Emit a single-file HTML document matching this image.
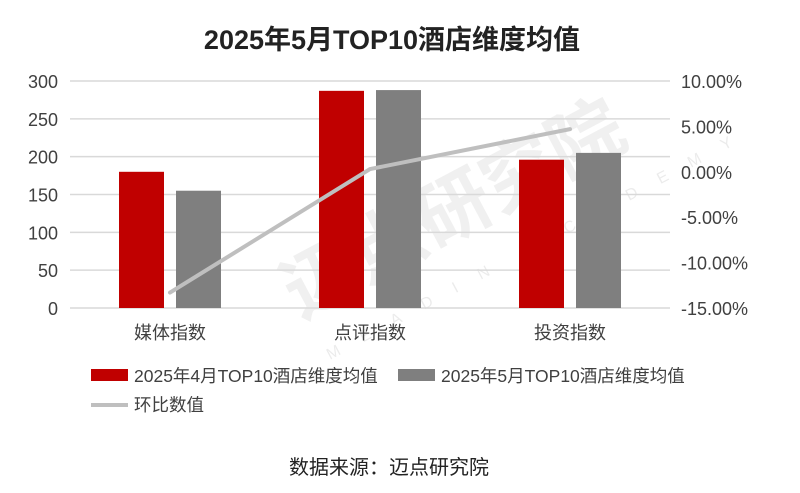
<!DOCTYPE html>
<html><head><meta charset="utf-8"><style>
body{margin:0;background:#fff;}
svg{display:block;font-family:"Liberation Sans","Noto Sans CJK SC",sans-serif;}
</style></head><body>
<svg id="chart" width="800" height="493" viewBox="0 0 800 493" xmlns="http://www.w3.org/2000/svg">
<text x="392" y="49" text-anchor="middle" font-size="27" font-weight="bold" fill="#222">2025年5月TOP10酒店维度均值</text>
<text x="300" y="320" font-size="75" font-weight="bold" fill="#000" fill-opacity="0.06" transform="rotate(-28 300 320)">迈点研究院</text>
<text x="330" y="360" font-size="16" letter-spacing="24" fill="#000" fill-opacity="0.08" transform="rotate(-28 330 360)">MEADIN ACADEMY</text>
<g id="grid"></g><g id="bars"></g><g id="line"></g><g id="axes"></g>
<g>
<rect x="91" y="369" width="37" height="12" fill="#c00000"/>
<text x="134" y="382" font-size="17.5" fill="#404040">2025年4月TOP10酒店维度均值</text>
<rect x="398" y="369" width="37" height="12" fill="#7f7f7f"/>
<text x="441" y="382" font-size="17.5" fill="#404040">2025年5月TOP10酒店维度均值</text>
<line x1="91" y1="405" x2="128" y2="405" stroke="#bfbfbf" stroke-width="4"/>
<text x="134" y="411" font-size="17.5" fill="#404040">环比数值</text>
</g>
<text x="389" y="474" text-anchor="middle" font-size="20" fill="#222">数据来源：迈点研究院</text>
</svg>
<script>
const categories=["媒体指数","点评指数","投资指数"];
const aprilValues=[180,287,196];
const mayValues=[155,288,205];
const momValues=[-13.3,0.3,4.7];
const leftTicks=[0,50,100,150,200,250,300];
const rightTicks=[-15,-10,-5,0,5,10];
const NS="http://www.w3.org/2000/svg";
const X0=70,X1=670,Y0=308,Y1=81;
const yL=v=>Y0-(v/300)*(Y0-Y1);
const yR=v=>Y0-((v+15)/25)*(Y0-Y1);
const band=(X1-X0)/categories.length;
const xc=i=>X0+band*(i+0.5);
function mk(tag,attrs,parent,txt){const e=document.createElementNS(NS,tag);for(const k in attrs)e.setAttribute(k,attrs[k]);if(txt!==undefined)e.textContent=txt;document.getElementById(parent).appendChild(e);return e;}
leftTicks.forEach(t=>{
  const g=mk('line',{x1:X0,x2:X1,y1:yL(t),y2:yL(t),stroke:'#d9d9d9','stroke-width':1.5},'grid');
  
  
  const l=mk('text',{x:58,y:yL(t)+7,'text-anchor':'end','font-size':18,fill:'#404040'},'axes',t);
  
  
});
rightTicks.forEach(t=>{
  const l=mk('text',{x:681,y:yR(t)+7,'font-size':18,fill:'#404040'},'axes',t.toFixed(2)+'%');
  
  
});
const bw=45,gap=12;
categories.forEach((c,i)=>{
  const a=mk('rect',{x:xc(i)-gap/2-bw,y:yL(aprilValues[i]),width:bw,height:Y0-yL(aprilValues[i]),fill:'#c00000'},'bars');
  
  
  const m=mk('rect',{x:xc(i)+gap/2,y:yL(mayValues[i]),width:bw,height:Y0-yL(mayValues[i]),fill:'#7f7f7f'},'bars');
  
  
  const l=mk('text',{x:xc(i),y:339,'text-anchor':'middle','font-size':18,fill:'#404040'},'axes',c);
  
  
});
const pts=momValues.map((v,i)=>xc(i)+','+yR(v)).join(' ');
const pl=mk('polyline',{points:pts,fill:'none',stroke:'#bfbfbf','stroke-width':4,'stroke-linejoin':'round','stroke-linecap':'round'},'line');


</script>
</body></html>
